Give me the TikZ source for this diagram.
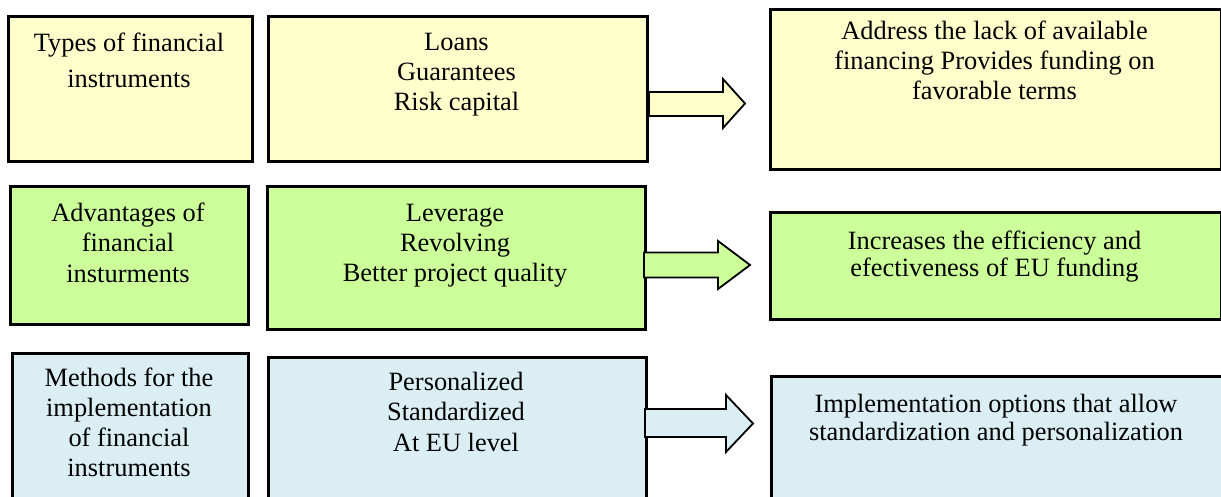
\documentclass[tikz,border=0pt]{standalone}
\usepackage{fontspec}
\setmainfont{Liberation Serif}
\definecolor{yel}{HTML}{FFFFCC}
\definecolor{grn}{HTML}{CCFF99}
\definecolor{blu}{HTML}{DAEEF3}
\begin{document}
\begin{tikzpicture}[x=1pt,y=-1pt,
  box/.style={draw=black, line width=2.6pt, rectangle, inner sep=0pt, anchor=north west},
  txt/.style={anchor=north, align=center, inner sep=0pt},
  barrow/.style={draw=black, line width=1.8pt, line join=miter}]
\useasboundingbox (0,0) rectangle (1221,497);
\clip (0,0) rectangle (1221,497);
% row 1
\node[box, fill=yel, minimum width=244pt, minimum height=145pt] (a1) at (7,15) {};
\node[box, fill=yel, minimum width=379pt, minimum height=145pt] (b1) at (267,15) {};
\node[box, fill=yel, minimum width=451pt, minimum height=160pt] (c1) at (769,8) {};
% row 2
\node[box, fill=grn, minimum width=238pt, minimum height=138pt] (a2) at (9,185) {};
\node[box, fill=grn, minimum width=378pt, minimum height=143pt] (b2) at (266,185) {};
\node[box, fill=grn, minimum width=451pt, minimum height=107pt] (c2) at (769,211) {};
% row 3
\node[box, fill=blu, minimum width=236pt, minimum height=160pt] (a3) at (11,352) {};
\node[box, fill=blu, minimum width=378pt, minimum height=160pt] (b3) at (267,356) {};
\node[box, fill=blu, minimum width=454pt, minimum height=140pt] (c3) at (770,375) {};
% texts
\node[txt, font=\fontsize{26.4}{36}\selectfont] (a1t) at (129,25.8) {\strut Types of financial\\instruments};
\node[txt, font=\fontsize{26.4}{30}\selectfont] (b1t) at (456.5,29.5) {\strut Loans\\Guarantees\\Risk capital};
\node[txt, font=\fontsize{26.4}{30}\selectfont] (c1t) at (994.5,18.5) {\strut Address the lack of available\\financing Provides funding on\\favorable terms};
\node[txt, font=\fontsize{26.4}{30.5}\selectfont] (a2t) at (128,199.65) {\strut Advantages of\\financial\\insturments};
\node[txt, font=\fontsize{26.4}{30}\selectfont] (b2t) at (455,200) {\strut Leverage\\Revolving\\Better project quality};
\node[txt, font=\fontsize{26.4}{27}\selectfont] (c2t) at (994.5,230.1) {\strut Increases the efficiency and\\efectiveness of EU funding};
\node[txt, font=\fontsize{26.4}{30}\selectfont] (a3t) at (129,365.5) {\strut Methods for the\\implementation\\of financial\\instruments};
\node[txt, font=\fontsize{26.4}{30.5}\selectfont] (b3t) at (456,368.65) {\strut Personalized\\Standardized\\At EU level};
\node[txt, font=\fontsize{26.4}{28}\selectfont] (c3t) at (996,392.4) {\strut Implementation options that allow\\standardization and personalization};
% block arrows
\coordinate (s1) at (649,92);
\coordinate (t1) at (745,103.5);
\draw[barrow, fill=yel] (s1) -- ++(74,0) -- ++(0,-13) -- (t1) -- (723,128) -- ++(0,-12) -- (649,116) -- cycle;
\coordinate (s2) at (644,252.5);
\coordinate (t2) at (750,265);
\draw[barrow, fill=grn] (s2) -- ++(74,0) -- ++(0,-11.5) -- (t2) -- (718,289) -- ++(0,-11.5) -- (644,277.5) -- cycle;
\coordinate (s3) at (645,409);
\coordinate (t3) at (753,423.5);
\draw[barrow, fill=blu] (s3) -- ++(81,0) -- ++(0,-14) -- (t3) -- (726,452) -- ++(0,-15) -- (645,437) -- cycle;
\end{tikzpicture}
\end{document}
